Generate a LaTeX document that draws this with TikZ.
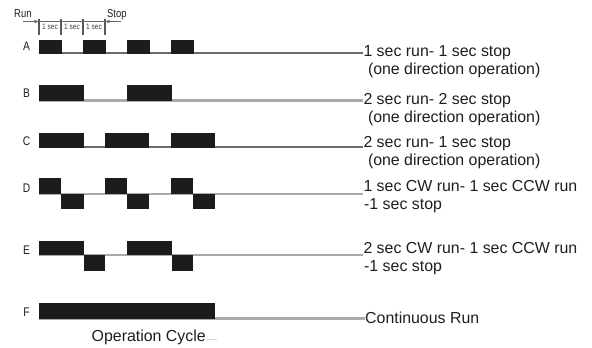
\documentclass[tikz,border=0pt]{standalone}
\usepackage{fontspec}
\setmainfont{Liberation Sans}
\newfontfamily\narrowsans[FakeStretch=0.82]{Liberation Sans}
\usetikzlibrary{arrows.meta}
\definecolor{pulsefill}{HTML}{1C1C1C}
\definecolor{linedark}{HTML}{6A6A6A}
\definecolor{linelight}{HTML}{AAAAAA}
\definecolor{txt}{HTML}{1E1E1E}
\begin{document}
\begin{tikzpicture}[x=1pt,y=-1pt,
  pulse/.style={fill=pulsefill,draw=none},
  darkline/.style={draw=linedark,line width=1.3pt},
  lightline/.style={draw=linelight,line width=2.2pt},
  caption/.style={anchor=base west,inner sep=0pt,text=txt,
    font=\fontsize{15.9}{18}\selectfont},
  rowtag/.style={anchor=center,inner sep=0pt,text=txt,
    font=\narrowsans\fontsize{12.5}{13}\selectfont},
  headtext/.style={anchor=base west,inner sep=0pt,text=txt,
    font=\narrowsans\fontsize{11.5}{12}\selectfont},
  secnote/.style={anchor=center,inner sep=0pt,text=black!75,
    font=\narrowsans\fontsize{8}{9}\selectfont},
  dimline/.style={draw=black!60,line width=0.9pt},
  tickline/.style={draw=black!65,line width=1.1pt}]
\useasboundingbox (0,0) rectangle (592,348);

% ---------- timing header: Run / Stop with 1 sec divisions ----------
\node[headtext] (run) at (14,17) {Run};
\node[headtext] (stop) at (107,17) {Stop};
\coordinate (dimL) at (23,21.5);
\coordinate (dimR) at (121,21.5);
\foreach \i/\x in {1/39,2/61,3/83,4/105}{
  \coordinate (tt\i) at (\x,19);
  \coordinate (tb\i) at (\x,35);
  \draw[tickline] (tt\i) -- (tb\i);
}
\draw[dimline] (dimL) -- (dimR);
\draw[dimline,-{Stealth[length=5pt,width=3.5pt]}] (dimL) -- (dimL -| tt1);
\draw[dimline,-{Stealth[length=5pt,width=3.5pt]}] (dimR) -- (dimR -| tt4);
\node[secnote] (sec1) at (50,26.5) {1 sec};
\node[secnote] (sec2) at (72,26.5) {1 sec};
\node[secnote] (sec3) at (94,26.5) {1 sec};

% ---------- row A: 1 sec run - 1 sec stop ----------
\node[rowtag] (tagA) at (26.5,46) {A};
\coordinate (aS) at (39,53);
\node[caption] (capA1) at (363.3,56) {1 sec run- 1 sec stop};
\node[caption] (capA2) at (367.8,74) {(one direction operation)};
\draw[darkline] (aS) -- (aS -| capA1.west);
\foreach \a/\b in {39/62,83/106,127/150,171/194}
  \fill[pulse] (\a,39.5) rectangle (\b,53.5);

% ---------- row B: 2 sec run - 2 sec stop ----------
\node[rowtag] (tagB) at (26.5,93) {B};
\coordinate (bS) at (39,100.5);
\node[caption] (capB1) at (363.3,104) {2 sec run- 2 sec stop};
\node[caption] (capB2) at (367.8,122) {(one direction operation)};
\draw[lightline] (bS) -- (bS -| capB1.west);
\foreach \a/\b in {39/84,127/172}
  \fill[pulse] (\a,85) rectangle (\b,101);

% ---------- row C: 2 sec run - 1 sec stop ----------
\node[rowtag] (tagC) at (26.5,141) {C};
\coordinate (cS) at (39,147);
\node[caption] (capC1) at (363.3,147) {2 sec run- 1 sec stop};
\node[caption] (capC2) at (367.8,165) {(one direction operation)};
\draw[darkline] (cS) -- (cS -| capC1.west);
\foreach \a/\b in {39/84,105/149,171/215}
  \fill[pulse] (\a,133) rectangle (\b,147.5);

% ---------- row D: 1 sec CW - 1 sec CCW - 1 sec stop ----------
\node[rowtag] (tagD) at (26.5,188) {D};
\coordinate (dS) at (39,194);
\node[caption] (capD1) at (363.3,191.5) {1 sec CW run- 1 sec CCW run};
\node[caption] (capD2) at (364,209.5) {-1 sec stop};
\draw[lightline] (dS) -- (dS -| capD1.west);
\foreach \a/\b in {39/61,105/127,171/193}
  \fill[pulse] (\a,178) rectangle (\b,194);
\foreach \a/\b in {61/84,127/149,193/215}
  \fill[pulse] (\a,194) rectangle (\b,209);

% ---------- row E: 2 sec CW - 1 sec CCW - 1 sec stop ----------
\node[rowtag] (tagE) at (26.5,250) {E};
\coordinate (eS) at (39,255);
\node[caption] (capE1) at (363.3,253.5) {2 sec CW run- 1 sec CCW run};
\node[caption] (capE2) at (364,271.5) {-1 sec stop};
\draw[lightline] (eS) -- (eS -| capE1.west);
\foreach \a/\b in {39/84,127/172}
  \fill[pulse] (\a,241) rectangle (\b,255);
\foreach \a/\b in {84/105,172/193}
  \fill[pulse] (\a,255) rectangle (\b,271);

% ---------- row F: continuous run ----------
\node[rowtag] (tagF) at (26.5,312) {F};
\coordinate (fS) at (39,318.5);
\node[caption] (capF) at (365,323) {Continuous Run};
\draw[lightline] (fS) -- (fS -| capF.west);
\fill[pulse] (39,303) rectangle (215,319);

% ---------- axis caption ----------
\node[caption] (cycle) at (91.5,341) {Operation Cycle};
\coordinate (cycleEnd) at (217,339);
\draw[draw=black!15,line width=0.8pt] (cycle.east |- cycleEnd) -- (cycleEnd);
\end{tikzpicture}
\end{document}
